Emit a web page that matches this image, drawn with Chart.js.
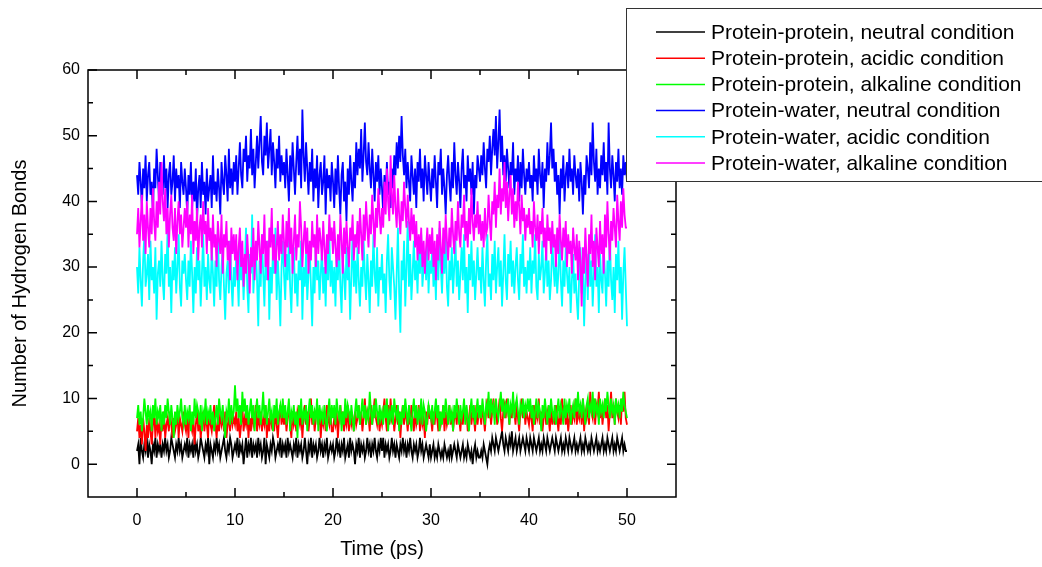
<!DOCTYPE html>
<html lang="en">
  <head>
    <meta charset="UTF-8" />
    <title>Number of Hydrogen Bonds</title>
    <script src="https://cdn.jsdelivr.net/npm/chart.js"></script>
    <style>
      html, body { margin: 0; padding: 0; background: #fff; }
      .wrap { width: 1042px; height: 567px; position: relative; }
    </style>
  </head>
  <body>
    <div class="wrap"><canvas id="grafico"></canvas></div>

    <script>
      // time step between samples (ps)
      const dt = 0.125;

      const seriesNames = [
        "Protein-protein, neutral condition",
        "Protein-protein, acidic condition",
        "Protein-protein, alkaline condition",
        "Protein-water, neutral condition",
        "Protein-water, acidic condition",
        "Protein-water, alkaline condition",
      ];
      const seriesColors = ["#000000", "#ff0000", "#00ff00", "#0000ff", "#00ffff", "#ff00ff"];

      // one line = 5 ps
      const ppNeutral = [
        2,3,0,4,2,1,3,2,4,1,3,2,0,3,2,4,1,3,2,3,1,3,2,4,2,3,1,2,4,3,2,1,3,2,4,2,3,1,2,3,
        2,4,1,3,2,3,1,4,2,3,1,2,4,3,2,1,3,2,4,0,3,2,1,3,2,4,2,3,1,2,3,4,2,1,3,2,4,3,1,2,
        3,2,4,1,3,2,3,0,2,4,1,3,2,4,1,3,2,3,1,4,2,3,1,2,4,0,3,2,1,3,2,4,3,1,2,3,2,4,1,3,
        2,3,1,4,2,3,2,1,3,2,4,1,3,2,3,1,2,4,2,0,3,2,4,1,3,2,3,1,2,4,2,3,1,3,2,4,1,2,3,2,
        3,1,2,4,2,3,1,3,2,4,1,2,3,1,4,2,3,2,0,3,2,4,1,3,2,3,1,2,4,2,3,1,3,2,4,2,1,3,2,4,
        2,4,1,3,2,3,1,2,4,2,3,1,3,2,1,3,2,4,2,3,1,3,2,4,2,1,3,2,3,1,2,4,2,3,1,2,3,2,1,3,
        1,2,3,1,2,1,3,2,1,2,1,3,2,1,2,1,3,1,2,3,2,1,3,2,1,2,3,1,2,1,3,2,1,2,0,2,3,1,2,1,
        1,2,1,3,2,1,0,2,3,2,4,3,2,4,3,2,3,4,5,3,2,4,3,2,4,3,5,2,3,4,2,3,4,2,3,4,3,2,4,3,
        2,4,3,2,4,3,2,3,4,2,3,2,4,3,2,4,3,2,3,4,3,2,4,3,2,3,4,2,3,2,4,3,2,4,3,2,3,4,2,3,
        2,3,4,2,3,2,4,3,2,3,2,4,3,2,3,4,2,3,2,3,4,2,3,2,4,3,2,3,4,2,3,2,4,3,2,3,4,2,3,2,
        2
      ];
      const ppAcidic = [
        5,7,4,6,3,7,5,2,6,4,7,5,3,6,8,4,7,5,6,3,7,5,8,4,6,7,5,8,6,4,7,5,6,8,4,7,6,5,8,6,
        5,7,4,8,6,5,7,3,6,8,5,7,4,6,8,5,7,6,4,8,6,5,7,9,6,4,7,5,8,6,7,5,8,4,6,7,5,8,6,7,
        6,8,5,7,4,6,9,5,7,6,8,4,7,5,8,6,7,9,5,7,6,8,5,7,6,9,4,7,5,8,6,7,5,8,6,4,7,9,6,8,
        6,8,5,7,9,6,4,8,6,7,5,8,7,6,8,4,7,9,6,8,5,7,10,6,8,5,7,9,6,8,4,7,6,8,5,9,7,6,8,5,
        5,7,6,8,4,7,9,6,8,5,7,6,9,5,8,6,7,5,8,6,7,9,6,8,5,7,10,6,8,7,5,9,6,8,10,7,6,8,5,7,
        6,8,10,7,5,9,6,10,7,8,5,7,9,6,8,4,7,9,6,8,7,5,8,6,9,7,5,8,6,7,9,5,8,6,7,4,8,6,9,7,
        7,5,8,6,9,7,5,8,6,7,9,5,8,6,7,9,6,8,5,7,8,6,9,7,5,8,6,9,7,8,5,7,9,6,8,7,5,9,6,8,
        8,6,9,7,5,8,10,7,9,6,8,10,7,9,6,8,10,7,5,8,9,7,10,8,6,9,7,10,8,6,9,7,5,8,10,7,9,6,8,7,
        6,8,7,5,9,6,8,7,10,6,8,5,7,9,6,8,7,5,9,6,8,6,9,7,5,8,6,10,7,9,6,8,5,7,9,6,8,7,10,6,
        8,7,9,6,10,5,8,7,9,6,11,8,7,10,6,9,8,11,7,9,6,8,10,7,9,5,8,11,7,9,6,10,8,7,9,6,10,8,11,7,
        6
      ];
      const ppAlkaline = [
        7,9,6,8,5,7,10,8,6,9,7,8,5,9,7,10,6,8,7,9,5,8,6,9,7,10,8,6,9,7,4,8,6,9,7,8,10,7,6,9,
        6,8,7,9,5,8,6,10,7,9,8,6,9,5,8,7,10,6,8,7,9,6,8,5,7,9,6,10,8,7,9,6,4,8,7,10,6,9,7,8,
        12,8,10,7,9,6,11,8,10,7,9,6,8,10,7,9,5,8,10,7,9,6,8,11,7,9,6,8,10,7,8,5,9,7,10,6,8,9,7,10,
        7,9,6,8,10,5,8,7,9,6,8,4,9,7,10,6,8,7,9,5,8,10,7,9,6,8,7,10,5,9,7,8,6,9,7,5,8,10,6,9,
        7,9,6,10,8,7,9,5,8,6,10,7,9,8,6,9,7,5,8,10,7,9,6,8,10,7,9,6,8,7,11,8,6,9,7,10,8,6,9,7,
        8,6,9,7,10,5,8,7,9,6,10,8,7,9,5,8,6,9,7,10,8,6,9,7,5,8,10,7,9,6,8,7,10,6,9,8,5,7,9,8,
        7,9,6,8,10,7,9,5,8,6,9,7,10,8,6,9,7,8,5,9,7,10,8,6,9,7,8,10,6,9,7,5,8,10,7,9,6,8,10,7,
        9,7,10,8,6,9,8,11,7,10,8,9,6,10,8,7,9,11,8,10,7,9,8,10,6,9,8,11,7,9,10,8,6,9,8,10,7,9,8,10,
        8,10,7,9,6,8,10,7,9,8,5,9,7,10,8,6,9,7,10,8,7,9,6,8,10,7,9,8,6,10,7,9,8,10,6,8,9,7,10,8,
        11,8,9,7,10,8,6,9,10,7,9,8,11,7,10,8,9,6,10,8,9,7,10,8,11,9,7,10,8,9,6,10,8,9,7,10,8,11,9,8,
        7
      ];
      const pwNeutral = [
        44,41,46,43,39,45,42,47,40,44,46,41,43,38,45,42,48,44,40,46,43,41,47,42,45,39,44,46,41,43,47,40,45,42,44,39,46,43,41,45,
        42,38,44,41,46,39,43,40,45,37,42,44,39,46,41,43,38,45,40,42,44,39,47,41,43,40,45,42,38,46,43,41,47,44,40,48,42,45,41,46,
        43,47,41,45,49,44,42,48,46,50,43,47,45,51,44,48,42,46,50,45,49,53,46,44,50,47,52,45,48,51,44,49,46,42,48,45,50,43,47,44,
        46,42,48,44,40,47,43,49,45,41,46,50,44,48,42,54,47,43,49,45,41,46,43,48,40,45,42,47,39,44,46,41,43,47,38,45,42,44,40,46,
        43,39,45,41,47,42,38,44,46,40,43,37,45,41,47,43,40,46,42,49,44,48,45,51,43,47,52,46,44,49,45,42,48,44,40,46,43,47,41,45,
        42,38,44,40,46,41,43,39,45,42,47,44,49,45,50,46,53,47,44,48,42,46,43,40,47,44,41,45,39,46,43,48,42,45,40,47,44,41,46,43,
        40,45,42,47,43,39,46,44,48,41,45,42,38,44,47,43,40,46,42,49,44,41,46,43,39,45,48,42,44,40,47,43,45,41,46,38,44,42,47,45,
        43,47,44,49,45,42,48,46,50,44,48,51,47,53,45,49,54,46,50,44,47,43,48,45,42,46,44,49,41,45,43,47,40,46,42,48,44,41,45,43,
        46,42,44,40,47,43,45,41,48,44,42,46,39,45,43,49,44,47,52,45,48,43,46,41,44,38,45,42,47,40,44,46,42,48,43,45,41,47,44,42,
        45,40,46,43,38,44,41,47,45,42,49,44,52,46,43,48,41,45,42,47,44,49,43,46,41,52,45,42,47,44,40,46,43,48,42,45,41,47,44,46,
        43
      ];
      const pwAcidic = [
        30,26,33,28,24,31,35,27,29,32,25,34,28,30,26,33,22,29,31,27,34,28,25,32,29,36,27,30,23,31,28,33,26,30,35,27,24,31,29,32,
        28,25,31,27,34,29,23,30,26,33,28,31,24,29,35,27,30,25,32,28,26,33,29,24,31,27,36,28,25,30,33,27,22,29,31,26,34,28,24,30,
        27,32,29,24,34,28,31,25,30,36,27,23,32,29,38,26,30,33,28,21,31,27,35,29,24,32,28,34,22,30,26,33,29,36,25,31,27,21,30,34,
        29,25,32,28,35,27,23,30,33,26,29,24,31,28,34,22,30,27,32,25,29,33,27,21,30,26,34,28,31,25,29,33,26,30,24,32,28,35,27,31,
        26,30,24,32,28,34,27,23,31,29,25,33,28,30,22,29,35,27,31,26,33,28,24,30,27,34,29,25,32,28,23,31,27,35,29,26,33,24,30,28,
        32,26,29,23,31,35,28,25,33,30,27,22,29,36,26,20,31,28,34,24,30,37,27,32,25,29,34,28,31,26,33,29,35,27,30,32,28,34,26,31,
        29,33,27,31,25,34,28,36,30,26,32,29,35,27,24,31,28,33,26,30,34,27,31,25,29,33,28,35,26,30,23,32,28,34,27,31,25,29,33,28,
        30,26,33,28,24,31,35,27,29,25,32,28,34,26,30,33,27,31,24,29,35,28,25,32,29,34,27,31,26,30,33,28,25,32,29,35,27,30,26,31,
        28,33,26,31,29,35,27,25,32,28,30,34,26,29,33,27,31,25,28,34,30,27,32,26,29,35,28,24,31,27,33,29,26,30,23,28,32,26,29,25,
        22,29,33,26,30,21,28,32,25,34,27,31,24,29,35,27,30,23,32,28,26,33,29,24,31,27,35,28,25,30,23,32,28,34,26,30,22,29,33,27,
        21
      ];
      const pwAlkaline = [
        35,39,33,37,41,34,38,32,40,36,33,39,35,42,37,34,40,36,43,38,46,40,37,42,35,39,33,38,41,36,34,39,32,37,40,35,38,33,36,39,
        36,40,33,38,35,41,32,37,34,39,31,36,38,33,40,35,37,32,39,34,36,31,38,33,35,30,37,34,32,38,29,35,33,37,31,34,28,36,32,35,
        31,35,28,33,36,30,34,27,32,29,35,31,26,33,30,36,28,34,31,37,33,29,35,32,38,30,34,28,36,33,39,31,35,29,33,37,31,35,32,38,
        34,30,37,33,39,32,36,29,34,38,31,35,33,40,36,30,34,37,32,36,29,34,31,37,33,35,30,38,32,36,34,31,37,33,29,35,32,38,34,36,
        32,37,33,30,35,31,38,34,29,36,32,37,33,30,36,34,38,31,35,33,37,32,39,35,31,38,34,40,36,33,38,35,41,37,33,39,36,42,38,35,
        39,36,43,38,45,40,37,47,41,38,44,39,36,42,38,35,40,37,43,39,36,41,37,34,39,35,38,33,37,31,35,32,36,30,34,29,33,36,31,35,
        32,36,30,34,28,35,31,37,33,29,36,32,38,34,31,36,33,39,35,32,37,34,40,35,33,38,36,41,34,37,33,39,35,42,37,34,38,36,40,35,
        38,34,37,33,39,35,36,41,37,34,40,38,43,36,41,39,45,38,42,40,46,39,43,37,41,44,38,42,36,40,37,43,39,35,41,37,39,34,38,36,
        39,35,37,33,40,36,34,38,32,37,35,39,33,36,31,38,34,36,32,37,33,35,30,36,32,38,34,31,36,33,37,30,35,32,34,29,36,33,31,35,
        28,34,31,24,33,29,36,31,27,35,32,38,30,34,28,36,33,30,37,32,35,29,38,33,40,35,31,37,34,39,36,33,41,37,34,40,36,42,38,36,
        36
      ];

      const xTicks = [0, 10, 20, 30, 40, 50];
      const xMinor = [5, 15, 25, 35, 45];
      const yTicks = [0, 10, 20, 30, 40, 50, 60];
      const yMinor = [5, 15, 25, 35, 45, 55];

      const allSeries = [ppNeutral, ppAcidic, ppAlkaline, pwNeutral, pwAcidic, pwAlkaline];

      const datasets = allSeries.map((vals, i) => ({
        label: seriesNames[i],
        data: vals.map((v, k) => ({ x: k * dt, y: v })),
        borderColor: seriesColors[i],
        backgroundColor: seriesColors[i],
        borderWidth: 1.8,
        pointRadius: 0,
        tension: 0,
        order: allSeries.length - i, // first series at the bottom, like Origin
      }));

      const fontName = "Arial, 'Liberation Sans', sans-serif";

      // frame with inward ticks on all four sides
      const frame = {
        id: "frame",
        afterDatasetsDraw(chart) {
          const { ctx, chartArea: a, scales } = chart;
          const x = scales.x, y = scales.y;
          ctx.save();
          ctx.strokeStyle = "#000";
          ctx.lineWidth = 1.5;
          ctx.strokeRect(a.left, a.top, a.right - a.left, a.bottom - a.top);
          ctx.beginPath();
          const tk = (list, len) => {
            list.forEach((v) => {
              const px = x.getPixelForValue(v);
              ctx.moveTo(px, a.bottom); ctx.lineTo(px, a.bottom - len);
              ctx.moveTo(px, a.top); ctx.lineTo(px, a.top + len);
            });
          };
          const tky = (list, len) => {
            list.forEach((v) => {
              const py = y.getPixelForValue(v);
              ctx.moveTo(a.left, py); ctx.lineTo(a.left + len, py);
              ctx.moveTo(a.right, py); ctx.lineTo(a.right - len, py);
            });
          };
          tk(xTicks, 9); tk(xMinor, 5);
          tky(yTicks, 9); tky(yMinor, 5);
          ctx.stroke();
          ctx.restore();
        },
      };

      // boxed legend in the top right corner
      const legendBox = {
        id: "legendBox",
        afterDraw(chart) {
          const ctx = chart.ctx;
          ctx.save();
          ctx.fillStyle = "#fff";
          ctx.fillRect(626, 8, 430, 173);
          ctx.strokeStyle = "#333";
          ctx.lineWidth = 1;
          ctx.strokeRect(626.5, 8.5, 430, 173);
          ctx.font = "21px " + fontName;
          ctx.textBaseline = "middle";
          chart.data.datasets.forEach((ds, i) => {
            const yy = 32 + i * 26.2;
            ctx.strokeStyle = seriesColors[i];
            ctx.lineWidth = 1.5;
            ctx.beginPath();
            ctx.moveTo(656, yy);
            ctx.lineTo(705, yy);
            ctx.stroke();
            ctx.fillStyle = "#000";
            ctx.fillText(ds.label, 711, yy + 1);
          });
          ctx.restore();
        },
      };

      new Chart(document.getElementById("grafico"), {
        type: "line",
        data: { datasets },
        plugins: [frame, legendBox],
        options: {
          responsive: true,
          maintainAspectRatio: false,
          animation: false,
          layout: { padding: { left: 0, top: 70, right: 366, bottom: 0 } },
          plugins: { legend: { display: false }, tooltip: { enabled: false } },
          scales: {
            x: {
              type: "linear",
              min: -5,
              max: 55,
              afterFit: (s) => { s.height = 70; },
              afterBuildTicks: (s) => { s.ticks = xTicks.map((v) => ({ value: v })); },
              grid: { display: false, drawTicks: false },
              border: { display: false },
              ticks: { color: "#000", padding: 14, font: { family: fontName, size: 16 } },
              title: {
                display: true,
                text: "Time (ps)",
                color: "#000",
                padding: { top: 0, bottom: 6 },
                font: { family: fontName, size: 20 },
              },
            },
            y: {
              min: -5,
              max: 60,
              afterFit: (s) => { s.width = 88; },
              afterBuildTicks: (s) => { s.ticks = yTicks.map((v) => ({ value: v })); },
              grid: { display: false, drawTicks: false },
              border: { display: false },
              ticks: { color: "#000", padding: 8, font: { family: fontName, size: 16 } },
              title: {
                display: true,
                text: "Number of Hydrogen Bonds",
                color: "#000",
                padding: { top: 8, bottom: 0 },
                font: { family: fontName, size: 20 },
              },
            },
          },
        },
      });
    </script>
  </body>
</html>
